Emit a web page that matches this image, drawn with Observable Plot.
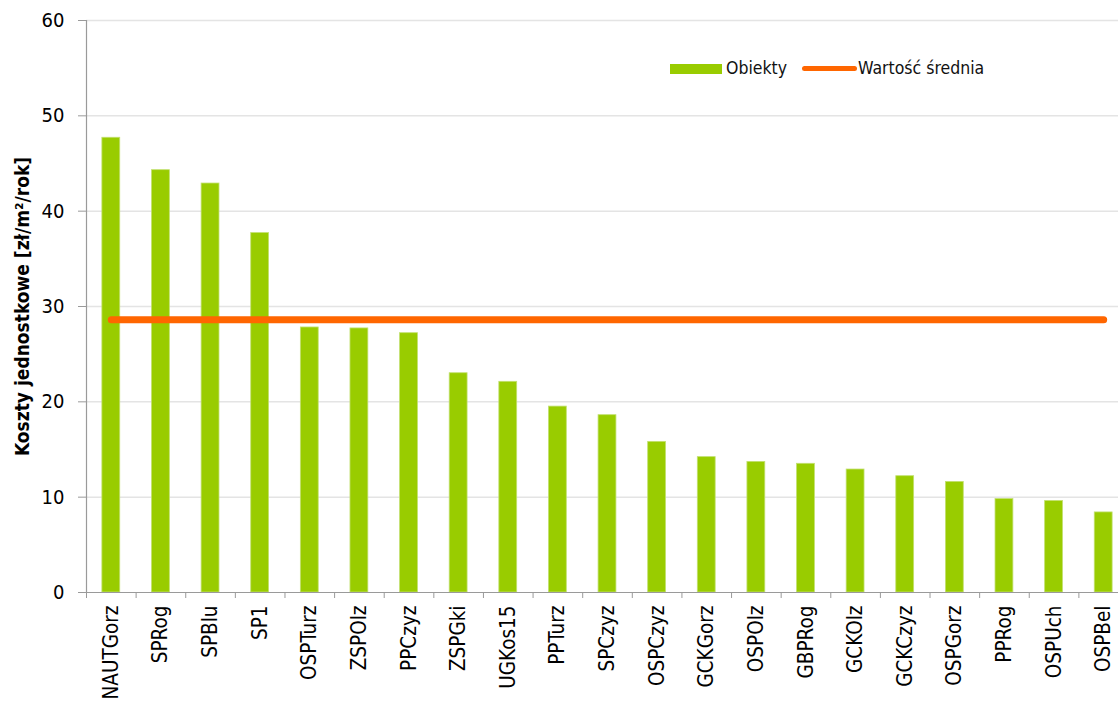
<!DOCTYPE html>
<html>
<head>
<meta charset="utf-8">
<script src="https://cdn.jsdelivr.net/npm/d3@7"></script>
<script src="https://cdn.jsdelivr.net/npm/@observablehq/plot@0.6"></script>
<style>
  html, body { margin: 0; padding: 0; background: #fff; overflow: hidden; }
  #wrap { position: relative; width: 1118px; height: 701px; font-family: "DejaVu Sans Condensed", "DejaVu Sans", sans-serif; }
  #wrap svg { max-width: none !important; }
  .lg { position: absolute; font-size: 17.5px; color: #111; line-height: 20px; font-family: "DejaVu Sans Condensed", "DejaVu Sans", sans-serif; }
  .sw-bar { position: absolute; left: 670px; top: 64px; width: 52px; height: 10px; background: #99cc00; }
  .sw-line { position: absolute; left: 802px; top: 66px; width: 55px; height: 5px; background: #ff6600; border-radius: 3px; }
</style>
</head>
<body>
<div id="wrap"></div>
<script>
const categories = ["NAUTGorz","SPRog","SPBlu","SP1","OSPTurz","ZSPOlz","PPCzyz","ZSPGki","UGKos15","PPTurz","SPCzyz","OSPCzyz","GCKGorz","OSPOlz","GBPRog","GCKOlz","GCKCzyz","OSPGorz","PPRog","OSPUch","OSPBel"];
const values = [47.7,44.3,42.9,37.7,27.8,27.7,27.2,23.0,22.1,19.5,18.6,15.8,14.2,13.7,13.5,12.9,12.2,11.6,9.8,9.6,8.4];
const meanValue = 28.6;
const yTicks = [0,10,20,30,40,50,60];
const yTitle = "Koszty jednostkowe [zł/m²/rok]";
const seriesNames = ["Obiekty", "Wartość średnia"];

const data = categories.map((c, i) => ({name: c, value: values[i]}));

const xRange = [86, 1128];
const step = (xRange[1] - xRange[0]) / categories.length;
const font = "'DejaVu Sans Condensed', 'DejaVu Sans', sans-serif";

const chart = Plot.plot({
  width: 1118,
  height: 701,
  marginTop: 20,
  marginBottom: 109,
  marginLeft: 86,
  marginRight: 0,
  style: {fontFamily: font, color: "#000", background: "#fff", overflow: "hidden"},
  x: {domain: categories, range: xRange, paddingInner: 0.64, paddingOuter: 0.32, round: false},
  y: {domain: [0, 60]},
  marks: [
    Plot.ruleY(yTicks.filter(d => d > 0), {stroke: "#e4e4e4", strokeWidth: 1.5}),
    Plot.barY(data, {x: "name", y: "value", fill: "#99cc00", stroke: "#c2e070", strokeWidth: 0.8}),
    Plot.lineY(data, {x: "name", y: () => meanValue, stroke: "#ff6600", strokeWidth: 7, strokeLinecap: "round"}),
    Plot.ruleY([0], {stroke: "#9a9a9a", strokeWidth: 1.2}),
    Plot.frame({anchor: "left", stroke: "#9a9a9a", strokeWidth: 1.2}),
    Plot.axisY({ticks: yTicks, tickSize: 8, tickPadding: 14, fontSize: 20, stroke: "#9a9a9a", fill: "#000", label: null}),
    Plot.axisX({tickSize: 0, tickRotate: -90, tickPadding: 13, fontSize: 20.5, fill: "#000", label: null}),
    Plot.axisX({tickSize: 6, tickFormat: () => "", dx: -step / 2, stroke: "#9a9a9a", label: null}),
    Plot.text([yTitle], {frameAnchor: "left", textAnchor: "middle", rotate: -90, dx: -64, fontSize: 19, fontWeight: "bold", fill: "#000"})
  ]
});

const wrap = document.getElementById("wrap");
wrap.appendChild(chart);
const addEl = (cls, text, left, top) => {
  const el = document.createElement("div");
  el.className = cls;
  if (text != null) { el.textContent = text; el.style.left = left + "px"; el.style.top = top + "px"; }
  wrap.appendChild(el);
};
addEl("sw-bar");
addEl("lg", seriesNames[0], 726, 58);
addEl("sw-line");
addEl("lg", seriesNames[1], 858, 58);
</script>
</body>
</html>
